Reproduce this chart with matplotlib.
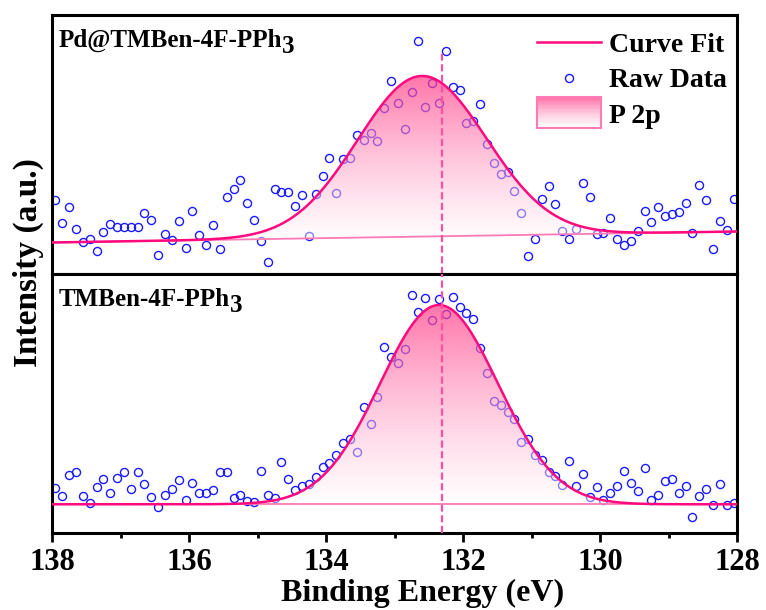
import numpy as np
import matplotlib
matplotlib.use("Agg")
import matplotlib.pyplot as plt
from matplotlib.legend_handler import HandlerBase
from matplotlib.patches import Rectangle
from matplotlib.lines import Line2D

plt.rcParams["font.family"] = "Liberation Serif"
plt.rcParams["font.weight"] = "bold"

# binding energy grid, 0.1 eV step
energy = np.round(np.arange(137.95, 128.0, -0.1), 2)

top_raw = [74, 50.7, 66.7, 44.7, 31.7, 35.3, 23.3, 41.7, 50, 46.7,
           46.7, 46.7, 46.7, 60.7, 53.7, 18.7, 40, 34, 53, 26,
           63, 38.7, 29.3, 49, 25, 77, 84.7, 93.7, 71.3, 53.7,
           33, 12.3, 84.7, 81.7, 81.7, 68, 79, 38, 80.3, 98,
           115.7, 81.3, 114.7, 116.3, 138.7, 133.7, 140.7, 133.3, 166.3, 192.7,
           171.3, 145.3, 182, 232.7, 167.3, 191.3, 171.3, 223.3, 187.3, 184,
           151, 153.3, 170, 130, 111.3, 100.3, 101.7, 82.7, 61, 18.3,
           35, 74.7, 87.7, 70, 43.3, 35.3, 45, 91, 77.3, 39.7,
           40.7, 56, 35.3, 29.3, 32.7, 43, 63.3, 52, 66.7, 58,
           60, 62, 71.3, 41.3, 88.7, 74.3, 24.7, 52.7, 44.3, 74.7]

bottom_raw = [44.7, 37, 58.3, 60.7, 37, 29.7, 45.7, 54, 39.7, 55,
              61.3, 44, 60.7, 48.7, 36.3, 25.7, 38, 44, 52.7, 32.7,
              49.7, 40.3, 40.3, 42.7, 61, 61.3, 35, 37.7, 32, 31.3,
              61.7, 38, 35.3, 71.3, 53.7, 43, 47, 49, 56.3, 66,
              70.3, 77.7, 90.3, 94, 81.3, 125.7, 108.7, 136.3, 185.7, 175.7,
              170.3, 184.3, 238, 221.3, 235.3, 213, 233.7, 219, 235.7, 225.7,
              219.7, 213.7, 185.3, 159.7, 131.7, 128.3, 120.7, 113.7, 90.7, 94,
              78, 73, 60.7, 57, 48, 72, 47.3, 59.3, 36.3, 46,
              33, 39.7, 47, 61.7, 49.7, 41.7, 65, 33, 38, 51.7,
              54.3, 39.7, 47, 16.3, 37.3, 43.7, 27.7, 49.3, 27.7, 29.7]

# P 2p fit: centre, sigma, amplitude, linear background at 138 / 128 eV
top_fit = dict(center=132.60, sigma=0.94, amp=160.6, bg_start=31.5, bg_end=42.5)
bottom_fit = dict(center=132.35, sigma=0.86, amp=199.3, bg_start=28.7, bg_end=28.7)
ref_energy = 132.31

top_label = ("Pd@TMBen-4F-PPh", "3")
bottom_label = ("TMBen-4F-PPh", "3")

LINE = "#ff0a7e"
BASE = "#ff7ab6"
DASH = "#ff4fa3"
DOTS = "#1a1aff"
PINK = (1.0, 0.22, 0.52)


def fit_curves(fit):
    xs = np.linspace(138, 128, 600)
    bg = fit["bg_start"] + (138 - xs) / 10 * (fit["bg_end"] - fit["bg_start"])
    peak = fit["amp"] * np.exp(-(xs - fit["center"]) ** 2 / (2 * fit["sigma"] ** 2))
    return xs, bg, bg + peak


def gradient_rgba(n=256):
    t = np.linspace(0, 1, n)[:, None]
    rgba = np.ones((n, 1, 4))
    rgba[..., 1] = 1 - t * (1 - PINK[1])
    rgba[..., 2] = 1 - t * (1 - PINK[2])
    rgba[..., 3] = 0.45 + 0.25 * t
    return rgba


def draw_panel(ax, raw, fit, label):
    ax.plot(energy, raw, "o", mfc="none", mec=DOTS, ms=5.8, mew=1.0, zorder=2)
    xs, bg, total = fit_curves(fit)
    poly = ax.fill_between(xs, bg, total, facecolor="none", edgecolor="none")
    im = ax.imshow(gradient_rgba(), origin="lower", aspect="auto",
                   extent=[138, 128, bg.min(), total.max()], zorder=3)
    im.set_clip_path(poly.get_paths()[0], transform=ax.transData)
    ax.plot(xs, bg, color=BASE, lw=1.3, zorder=4)
    ax.plot(xs, total, color=LINE, lw=1.8, zorder=5)
    # sample name, with the "3" dropped below the baseline
    name = ax.text(0.009, 0.876, label[0], transform=ax.transAxes, fontsize=18,
                   va="baseline", ha="left")
    ax.annotate(label[1], xy=(1, 0), xycoords=name, xytext=(0.3, -4),
                textcoords="offset points", fontsize=18, va="bottom", ha="left")
    ax.set_xlim(138, 128)
    ax.set_ylim(0, 259)
    ax.set_yticks([])
    for sp in ax.spines.values():
        sp.set_linewidth(2.2)


class GradientHandler(HandlerBase):
    def create_artists(self, legend, orig_handle, xdescent, ydescent,
                       width, height, fontsize, trans):
        h = height * 1.6
        y0 = -ydescent - (h - height) / 2
        n = 24
        cols = gradient_rgba(n)
        arts = []
        for k in range(n):
            arts.append(Rectangle((-xdescent, y0 + k * h / n), width, h / n,
                                  facecolor=cols[k, 0], edgecolor="none",
                                  transform=trans))
        arts.append(Rectangle((-xdescent, y0), width, h, facecolor="none",
                              edgecolor=BASE, lw=1.5, transform=trans))
        return arts


fig, (ax_top, ax_bot) = plt.subplots(2, 1, figsize=(7.66, 6.10), dpi=100, sharex=True)
fig.subplots_adjust(left=52 / 766, right=737 / 766, bottom=1 - 533 / 610,
                    top=1 - 15 / 610, hspace=0)

draw_panel(ax_top, top_raw, top_fit, top_label)
draw_panel(ax_bot, bottom_raw, bottom_fit, bottom_label)

# reference position of the P 2p peak
ax_top.plot([ref_energy, ref_energy], [0, 221], color=DASH, lw=1.6,
            ls=(0, (3.2, 1.6)), zorder=6)
ax_bot.axvline(ref_energy, color=DASH, lw=1.6, ls=(0, (3.2, 1.6)), zorder=6)

ax_top.tick_params(axis="x", which="both", bottom=False, labelbottom=False)
ax_bot.set_xticks(np.arange(138, 127, -2))
ax_bot.set_xticks(np.arange(137, 128, -2), minor=True)
ax_bot.tick_params(axis="x", which="major", direction="out", length=6.5,
                   width=2, labelsize=22, pad=4)
ax_bot.tick_params(axis="x", which="minor", direction="out", length=3.5, width=2)

handles = [Line2D([], [], color=LINE, lw=1.8),
           Line2D([], [], ls="none", marker="o", mfc="none", mec=DOTS, ms=5.8, mew=1.0),
           Rectangle((0, 0), 1, 1)]
ax_top.legend(handles, ["Curve Fit", "Raw Data", "P 2p"], loc="upper right",
              bbox_to_anchor=(1.006, 0.985), frameon=False, fontsize=20,
              handlelength=2.3, handletextpad=0.3, labelspacing=0.35,
              borderaxespad=0.1, handler_map={Rectangle: GradientHandler()})

fig.text(423 / 766, 1 - 593 / 610, "Binding Energy (eV)", fontsize=23,
         ha="center", va="center")
fig.text(28 / 766, 1 - 263 / 610, "Intensity (a.u.)", fontsize=24,
         rotation=90, ha="center", va="center")

fig.savefig("out.png", dpi=100)
